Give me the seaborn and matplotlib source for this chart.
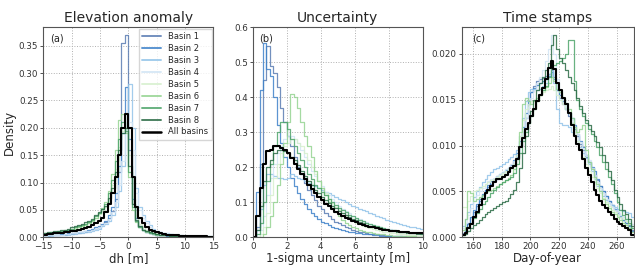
import numpy as np
import pandas as pd
import matplotlib
matplotlib.use("Agg")
from matplotlib import pyplot as plt
from matplotlib.lines import Line2D
import seaborn as sns

# ---- data: per-bin densities ----
basins = ['Basin 1', 'Basin 2', 'Basin 3', 'Basin 4', 'Basin 5', 'Basin 6', 'Basin 7', 'Basin 8', 'All basins']

# (a) elevation anomaly, bins of 0.6 m from -15 m
dh_b1 = [0.003,0.003,0.004,0.004,0.004,0.005,0.005,0.006,0.006,0.007,0.008,0.009,0.010,0.011,0.013,0.015,0.018,0.022,
         0.028,0.036,0.048,0.070,0.120,0.355,0.370,0.160,0.060,0.030,0.018,0.013,
         0.009,0.007,0.006,0.005,0.004,0.004,0.003,0.003,0.003,0.002,0.002,0.002,0.002,0.002,0.001,0.001,0.001,0.001,0.001,0.001]
dh_b2 = [0.004,0.004,0.004,0.005,0.005,0.006,0.006,0.007,0.007,0.008,0.009,0.010,0.011,0.013,0.015,0.018,0.021,0.025,
         0.030,0.040,0.055,0.080,0.130,0.190,0.275,0.180,0.070,0.035,0.020,0.014,
         0.010,0.008,0.006,0.005,0.004,0.004,0.003,0.003,0.003,0.002,0.002,0.002,0.002,0.002,0.002,0.001,0.001,0.001,0.001,0.001]
dh_b3 = [0.003,0.003,0.003,0.004,0.004,0.004,0.005,0.005,0.006,0.006,0.007,0.008,0.009,0.010,0.012,0.014,0.016,0.020,
         0.024,0.030,0.040,0.055,0.085,0.130,0.200,0.280,0.200,0.090,0.055,0.040,
         0.030,0.022,0.016,0.012,0.010,0.008,0.007,0.006,0.005,0.004,0.004,0.003,0.003,0.003,0.002,0.002,0.002,0.002,0.002,0.002]
dh_b4 = [0.003,0.004,0.004,0.004,0.005,0.005,0.006,0.006,0.007,0.008,0.009,0.010,0.011,0.012,0.014,0.016,0.019,0.022,
         0.026,0.034,0.046,0.065,0.095,0.140,0.190,0.210,0.160,0.080,0.050,0.035,
         0.026,0.019,0.014,0.011,0.009,0.008,0.007,0.006,0.005,0.004,0.004,0.003,0.003,0.003,0.002,0.002,0.002,0.002,0.002,0.002]
dh_b5 = [0.006,0.007,0.008,0.009,0.010,0.011,0.012,0.013,0.015,0.017,0.019,0.021,0.024,0.027,0.031,0.036,0.042,0.048,
         0.055,0.070,0.095,0.125,0.165,0.195,0.200,0.150,0.075,0.040,0.025,0.018,
         0.014,0.011,0.009,0.008,0.007,0.006,0.006,0.005,0.005,0.004,0.004,0.003,0.003,0.003,0.003,0.002,0.002,0.002,0.002,0.002]
dh_b6 = [0.006,0.007,0.008,0.008,0.009,0.010,0.011,0.012,0.014,0.016,0.018,0.020,0.023,0.026,0.030,0.036,0.044,0.054,
         0.065,0.085,0.115,0.160,0.215,0.225,0.190,0.110,0.050,0.028,0.018,0.013,
         0.010,0.008,0.006,0.005,0.005,0.004,0.004,0.003,0.003,0.003,0.002,0.002,0.002,0.002,0.002,0.001,0.001,0.001,0.001,0.001]
dh_b7 = [0.007,0.008,0.009,0.010,0.011,0.012,0.013,0.014,0.016,0.018,0.020,0.022,0.025,0.028,0.032,0.038,0.045,0.052,
         0.060,0.080,0.105,0.140,0.180,0.210,0.195,0.120,0.055,0.030,0.019,0.014,
         0.011,0.008,0.007,0.006,0.005,0.004,0.004,0.003,0.003,0.003,0.002,0.002,0.002,0.002,0.002,0.002,0.001,0.001,0.001,0.001]
dh_b8 = [0.008,0.009,0.010,0.011,0.012,0.013,0.014,0.016,0.018,0.020,0.022,0.024,0.027,0.030,0.034,0.040,0.046,0.052,
         0.058,0.072,0.090,0.120,0.160,0.190,0.200,0.130,0.060,0.032,0.020,0.014,
         0.011,0.009,0.007,0.006,0.005,0.004,0.004,0.003,0.003,0.003,0.003,0.002,0.002,0.002,0.002,0.002,0.001,0.001,0.001,0.001]
dh_all = [0.005,0.006,0.006,0.007,0.008,0.008,0.009,0.010,0.011,0.012,0.013,0.015,0.017,0.019,0.022,0.026,0.030,0.036,
          0.046,0.060,0.080,0.110,0.150,0.200,0.225,0.200,0.110,0.055,0.036,0.026,
          0.019,0.014,0.011,0.009,0.007,0.006,0.005,0.005,0.004,0.004,0.003,0.003,0.003,0.002,0.002,0.002,0.002,0.002,0.001,0.001]

# (b) 1-sigma uncertainty, bins of 0.2 m from 0 m
unc_b1 = [0.00,0.03,0.21,0.45,0.545,0.49,0.47,0.43,0.37,0.33,0.29,0.26,0.23,0.20,0.18,0.155,0.135,0.12,0.105,0.09,
          0.08,0.07,0.06,0.052,0.045,0.04,0.034,0.03,0.026,0.022,0.019,0.016,0.014,0.012,0.01,0.009,0.008,0.007,0.006,0.005,
          0.004,0.004,0.003,0.003,0.003,0.002,0.002,0.002,0.002,0.002]
unc_b2 = [0.00,0.13,0.42,0.555,0.48,0.46,0.40,0.32,0.27,0.23,0.20,0.17,0.145,0.125,0.11,0.095,0.08,0.07,0.06,0.052,
          0.045,0.04,0.035,0.03,0.027,0.024,0.021,0.018,0.016,0.014,0.012,0.011,0.01,0.009,0.008,0.007,0.006,0.005,0.005,0.004,
          0.004,0.003,0.003,0.003,0.002,0.002,0.002,0.002,0.001,0.001]
unc_b3 = [0.00,0.02,0.08,0.15,0.18,0.18,0.175,0.17,0.17,0.165,0.17,0.18,0.175,0.17,0.165,0.16,0.155,0.15,0.145,0.14,
          0.135,0.13,0.125,0.12,0.115,0.11,0.105,0.10,0.095,0.09,0.086,0.082,0.078,0.074,0.07,0.066,0.062,0.058,0.054,0.05,
          0.047,0.044,0.041,0.038,0.035,0.032,0.03,0.028,0.026,0.024]
unc_b4 = [0.00,0.00,0.02,0.06,0.12,0.17,0.21,0.24,0.26,0.28,0.29,0.29,0.28,0.27,0.25,0.23,0.21,0.19,0.175,0.16,
          0.145,0.13,0.12,0.11,0.10,0.09,0.082,0.075,0.068,0.062,0.056,0.051,0.047,0.043,0.039,0.036,0.033,0.03,0.027,0.025,
          0.023,0.021,0.019,0.017,0.016,0.015,0.014,0.013,0.012,0.011]
unc_b5 = [0.00,0.00,0.01,0.03,0.07,0.12,0.17,0.21,0.24,0.26,0.27,0.28,0.28,0.27,0.26,0.24,0.22,0.20,0.18,0.16,
          0.14,0.125,0.11,0.098,0.087,0.077,0.068,0.06,0.053,0.047,0.042,0.037,0.033,0.029,0.026,0.023,0.02,0.018,0.016,0.014,
          0.012,0.011,0.01,0.009,0.008,0.007,0.006,0.006,0.005,0.005]
unc_b6 = [0.00,0.00,0.00,0.01,0.03,0.06,0.10,0.15,0.21,0.27,0.33,0.41,0.40,0.37,0.33,0.29,0.26,0.23,0.19,0.16,
          0.14,0.12,0.10,0.085,0.072,0.06,0.05,0.042,0.035,0.03,0.026,0.022,0.019,0.016,0.014,0.012,0.01,0.009,0.008,0.007,
          0.006,0.005,0.005,0.004,0.004,0.003,0.003,0.003,0.002,0.002]
unc_b7 = [0.00,0.01,0.04,0.10,0.16,0.21,0.26,0.30,0.33,0.33,0.31,0.28,0.26,0.24,0.22,0.20,0.18,0.165,0.15,0.14,
          0.13,0.12,0.11,0.10,0.092,0.085,0.078,0.071,0.065,0.06,0.055,0.05,0.046,0.042,0.038,0.035,0.032,0.029,0.026,0.024,
          0.022,0.02,0.018,0.016,0.015,0.014,0.013,0.012,0.011,0.01]
unc_b8 = [0.00,0.02,0.09,0.16,0.20,0.22,0.24,0.25,0.25,0.245,0.24,0.23,0.22,0.205,0.19,0.175,0.16,0.148,0.136,0.125,
          0.115,0.106,0.098,0.09,0.083,0.076,0.07,0.064,0.058,0.053,0.048,0.044,0.04,0.036,0.033,0.03,0.027,0.025,0.023,0.021,
          0.019,0.017,0.016,0.015,0.014,0.013,0.012,0.011,0.01,0.009]
unc_all = [0.00,0.06,0.14,0.21,0.245,0.25,0.26,0.26,0.255,0.25,0.24,0.225,0.21,0.195,0.18,0.165,0.15,0.138,0.126,0.115,
           0.105,0.096,0.088,0.08,0.073,0.067,0.061,0.056,0.051,0.047,0.043,0.039,0.036,0.033,0.03,0.028,0.026,0.024,0.022,0.02,
           0.019,0.018,0.017,0.016,0.015,0.014,0.013,0.012,0.011,0.011]

# (c) day-of-year, bins of 2 days from day 152
doy_b1 = [0.0005,0.0010,0.0016,0.0022,0.0028,0.0034,0.0040,0.0046,0.0051,0.0055,0.0058,0.0061,0.0063,0.0065,0.0067,
          0.0069,0.0072,0.0075,0.0080,0.0088,0.0100,0.0115,0.0130,0.0145,0.0158,0.0165,0.0170,0.0172,0.0174,0.0176,
          0.0178,0.0182,0.0175,0.0160,0.0152,0.0145,0.0140,0.0132,0.0125,0.0118,0.0110,0.0102,0.0095,0.0088,0.0082,
          0.0075,0.0068,0.0062,0.0056,0.0050,0.0045,0.0040,0.0035,0.0030,0.0026,0.0022,0.0019,0.0016,0.0013,0.0008]
doy_b2 = [0.0004,0.0009,0.0015,0.0022,0.0030,0.0036,0.0042,0.0047,0.0052,0.0057,0.0061,0.0064,0.0067,0.0069,0.0071,
          0.0073,0.0076,0.0079,0.0084,0.0092,0.0105,0.0120,0.0135,0.0148,0.0158,0.0163,0.0166,0.0168,0.0170,0.0172,
          0.0176,0.0180,0.0172,0.0160,0.0155,0.0148,0.0140,0.0135,0.0130,0.0122,0.0112,0.0105,0.0098,0.0090,0.0082,
          0.0077,0.0072,0.0064,0.0056,0.0050,0.0045,0.0040,0.0035,0.0031,0.0027,0.0023,0.0019,0.0016,0.0012,0.0007]
doy_b3 = [0.0012,0.0020,0.0028,0.0036,0.0044,0.0050,0.0055,0.0060,0.0064,0.0068,0.0071,0.0074,0.0076,0.0078,0.0080,
          0.0082,0.0085,0.0088,0.0091,0.0095,0.0110,0.0130,0.0148,0.0158,0.0162,0.0162,0.0160,0.0162,0.0165,0.0168,
          0.0178,0.0186,0.0168,0.0140,0.0125,0.0122,0.0122,0.0120,0.0115,0.0110,0.0105,0.0098,0.0092,0.0086,0.0080,
          0.0072,0.0064,0.0056,0.0050,0.0045,0.0041,0.0037,0.0035,0.0033,0.0031,0.0030,0.0029,0.0028,0.0026,0.0022]
doy_b4 = [0.0010,0.0016,0.0024,0.0032,0.0040,0.0046,0.0050,0.0054,0.0058,0.0061,0.0063,0.0065,0.0067,0.0069,0.0071,
          0.0074,0.0077,0.0080,0.0083,0.0086,0.0098,0.0115,0.0130,0.0142,0.0152,0.0160,0.0168,0.0175,0.0182,0.0192,
          0.0205,0.0220,0.0200,0.0172,0.0160,0.0150,0.0142,0.0135,0.0128,0.0120,0.0112,0.0104,0.0096,0.0090,0.0084,
          0.0076,0.0068,0.0060,0.0054,0.0048,0.0042,0.0037,0.0033,0.0030,0.0027,0.0024,0.0022,0.0020,0.0018,0.0014]
doy_b5 = [0.0033,0.0033,0.0040,0.0045,0.0050,0.0052,0.0054,0.0056,0.0058,0.0060,0.0062,0.0064,0.0066,0.0068,0.0070,
          0.0072,0.0074,0.0076,0.0080,0.0090,0.0110,0.0128,0.0140,0.0145,0.0148,0.0150,0.0152,0.0155,0.0158,0.0160,
          0.0162,0.0165,0.0160,0.0155,0.0150,0.0145,0.0140,0.0135,0.0125,0.0115,0.0105,0.0095,0.0088,0.0080,0.0072,
          0.0066,0.0060,0.0054,0.0048,0.0043,0.0038,0.0034,0.0030,0.0027,0.0024,0.0022,0.0020,0.0018,0.0015,0.0010]
doy_b6 = [0.0008,0.0020,0.0050,0.0048,0.0040,0.0042,0.0044,0.0046,0.0048,0.0050,0.0052,0.0054,0.0056,0.0058,0.0060,
          0.0062,0.0065,0.0068,0.0074,0.0085,0.0115,0.0145,0.0152,0.0148,0.0145,0.0148,0.0152,0.0156,0.0160,0.0164,
          0.0168,0.0175,0.0170,0.0162,0.0158,0.0152,0.0146,0.0140,0.0130,0.0120,0.0115,0.0118,0.0122,0.0095,0.0082,
          0.0074,0.0066,0.0058,0.0050,0.0042,0.0036,0.0032,0.0028,0.0025,0.0022,0.0019,0.0016,0.0013,0.0010,0.0006]
doy_b7 = [0.0002,0.0006,0.0011,0.0016,0.0021,0.0026,0.0031,0.0036,0.0040,0.0044,0.0048,0.0052,0.0055,0.0058,0.0060,
          0.0062,0.0064,0.0066,0.0070,0.0080,0.0092,0.0105,0.0115,0.0125,0.0132,0.0140,0.0148,0.0155,0.0160,0.0165,
          0.0175,0.0185,0.0188,0.0190,0.0192,0.0195,0.0200,0.0215,0.0215,0.0170,0.0150,0.0140,0.0132,0.0125,0.0118,
          0.0112,0.0105,0.0098,0.0090,0.0082,0.0074,0.0066,0.0058,0.0048,0.0038,0.0030,0.0024,0.0020,0.0016,0.0010]
doy_b8 = [0.0002,0.0004,0.0007,0.0010,0.0013,0.0016,0.0019,0.0022,0.0025,0.0028,0.0030,0.0032,0.0034,0.0036,0.0038,
          0.0040,0.0043,0.0047,0.0052,0.0060,0.0075,0.0092,0.0110,0.0125,0.0138,0.0150,0.0160,0.0168,0.0175,0.0182,
          0.0190,0.0210,0.0220,0.0205,0.0195,0.0190,0.0182,0.0175,0.0168,0.0160,0.0152,0.0143,0.0135,0.0128,0.0122,
          0.0116,0.0110,0.0104,0.0098,0.0090,0.0082,0.0072,0.0062,0.0052,0.0044,0.0036,0.0030,0.0025,0.0020,0.0012]
doy_all = [0.0002,0.0005,0.0010,0.0015,0.0022,0.0028,0.0035,0.0042,0.0048,0.0052,0.0056,0.0060,0.0063,0.0064,0.0066,
           0.0068,0.0071,0.0075,0.0078,0.0085,0.0098,0.0108,0.0118,0.0125,0.0132,0.0140,0.0148,0.0155,0.0163,0.0172,
           0.0185,0.0192,0.0183,0.0168,0.0160,0.0152,0.0145,0.0135,0.0122,0.0110,0.0102,0.0095,0.0085,0.0075,0.0068,
           0.0060,0.0052,0.0046,0.0040,0.0035,0.0032,0.0028,0.0024,0.0020,0.0017,0.0014,0.0012,0.0010,0.0008,0.0003]

colors = ['#5b7db3', '#3f82c9', '#93c4e9', '#d2e5f5', '#d6f0ce', '#95d492', '#4fa56b', '#2c6c47', 'black']

sns.set_style('ticks')
plt.rcParams['font.family'] = ['DejaVu Sans']

fig = plt.figure(figsize=(6.35, 2.66), dpi=100)
axes = [fig.add_axes([0.068, 0.108, 0.268, 0.79]),
        fig.add_axes([0.398, 0.108, 0.268, 0.79]),
        fig.add_axes([0.727, 0.108, 0.271, 0.79])]


def stairs(ax, values, start, width, color, lw, alpha):
    values = np.asarray(values, dtype=float)
    edges = start + width * np.arange(len(values) + 1)
    df = pd.DataFrame({'x': 0.5 * (edges[:-1] + edges[1:]), 'w': values})
    sns.histplot(data=df, x='x', weights='w', bins=list(edges), element='step', fill=False,
                 stat='count', color=color, linewidth=lw, alpha=alpha, ax=ax)


panels = [
    ([dh_b1, dh_b2, dh_b3, dh_b4, dh_b5, dh_b6, dh_b7, dh_b8, dh_all], -15.0, 0.6),
    ([unc_b1, unc_b2, unc_b3, unc_b4, unc_b5, unc_b6, unc_b7, unc_b8, unc_all], 0.0, 0.2),
    ([doy_b1, doy_b2, doy_b3, doy_b4, doy_b5, doy_b6, doy_b7, doy_b8, doy_all], 152.0, 2.0),
]

for ax, (series, start, width) in zip(axes, panels):
    for vals, col in zip(series, colors):
        if col == 'black':
            stairs(ax, vals, start, width, col, 1.5, 1.0)
        else:
            stairs(ax, vals, start, width, col, 0.9, 0.85)
    ax.grid(True, linestyle=':', color='#b0b0b0', linewidth=0.7)
    ax.set_axisbelow(True)
    ax.tick_params(labelsize=6.3, length=2, width=0.6, pad=1.5, colors='#333333')
    for s in ax.spines.values():
        s.set_color('#555555')
        s.set_linewidth(0.8)
    ax.set_ylabel('')

ax = axes[0]
ax.set_xlim(-15, 15)
ax.set_ylim(0, 0.384)
ax.set_xticks([-15, -10, -5, 0, 5, 10, 15])
ax.set_yticks(np.arange(0, 0.36, 0.05))
ax.set_title('Elevation anomaly', fontsize=10, pad=4)
ax.set_xlabel('dh [m]', fontsize=8.5, labelpad=0.5)
ax.set_ylabel('Density', fontsize=8.5, labelpad=2)
ax.text(0.04, 0.93, '(a)', transform=ax.transAxes, fontsize=7)
handles = [Line2D([], [], color=c, lw=1.8 if c == 'black' else 1.4, alpha=1.0 if c == 'black' else 0.85)
           for c in colors]
ax.legend(handles, basins, loc='upper right', fontsize=6, frameon=True, handlelength=2.2,
          labelspacing=0.35, borderpad=0.4, handletextpad=0.9, borderaxespad=0.2,
          fancybox=False, edgecolor='#cccccc')

ax = axes[1]
ax.set_xlim(0, 10)
ax.set_ylim(0, 0.6)
ax.set_xticks([0, 2, 4, 6, 8, 10])
ax.set_title('Uncertainty', fontsize=10, pad=4)
ax.set_xlabel('1-sigma uncertainty [m]', fontsize=8.5, labelpad=0.5)
ax.text(0.04, 0.93, '(b)', transform=ax.transAxes, fontsize=7)

ax = axes[2]
ax.set_xlim(152, 272)
ax.set_ylim(0, 0.0229)
ax.set_xticks([160, 180, 200, 220, 240, 260])
ax.set_yticks([0, 0.005, 0.010, 0.015, 0.020])
ax.set_yticklabels(['0.000', '0.005', '0.010', '0.015', '0.020'])
ax.set_title('Time stamps', fontsize=10, pad=4)
ax.set_xlabel('Day-of-year', fontsize=8.5, labelpad=0.5)
ax.text(0.06, 0.93, '(c)', transform=ax.transAxes, fontsize=7)

fig.savefig('out.png', dpi=100)
